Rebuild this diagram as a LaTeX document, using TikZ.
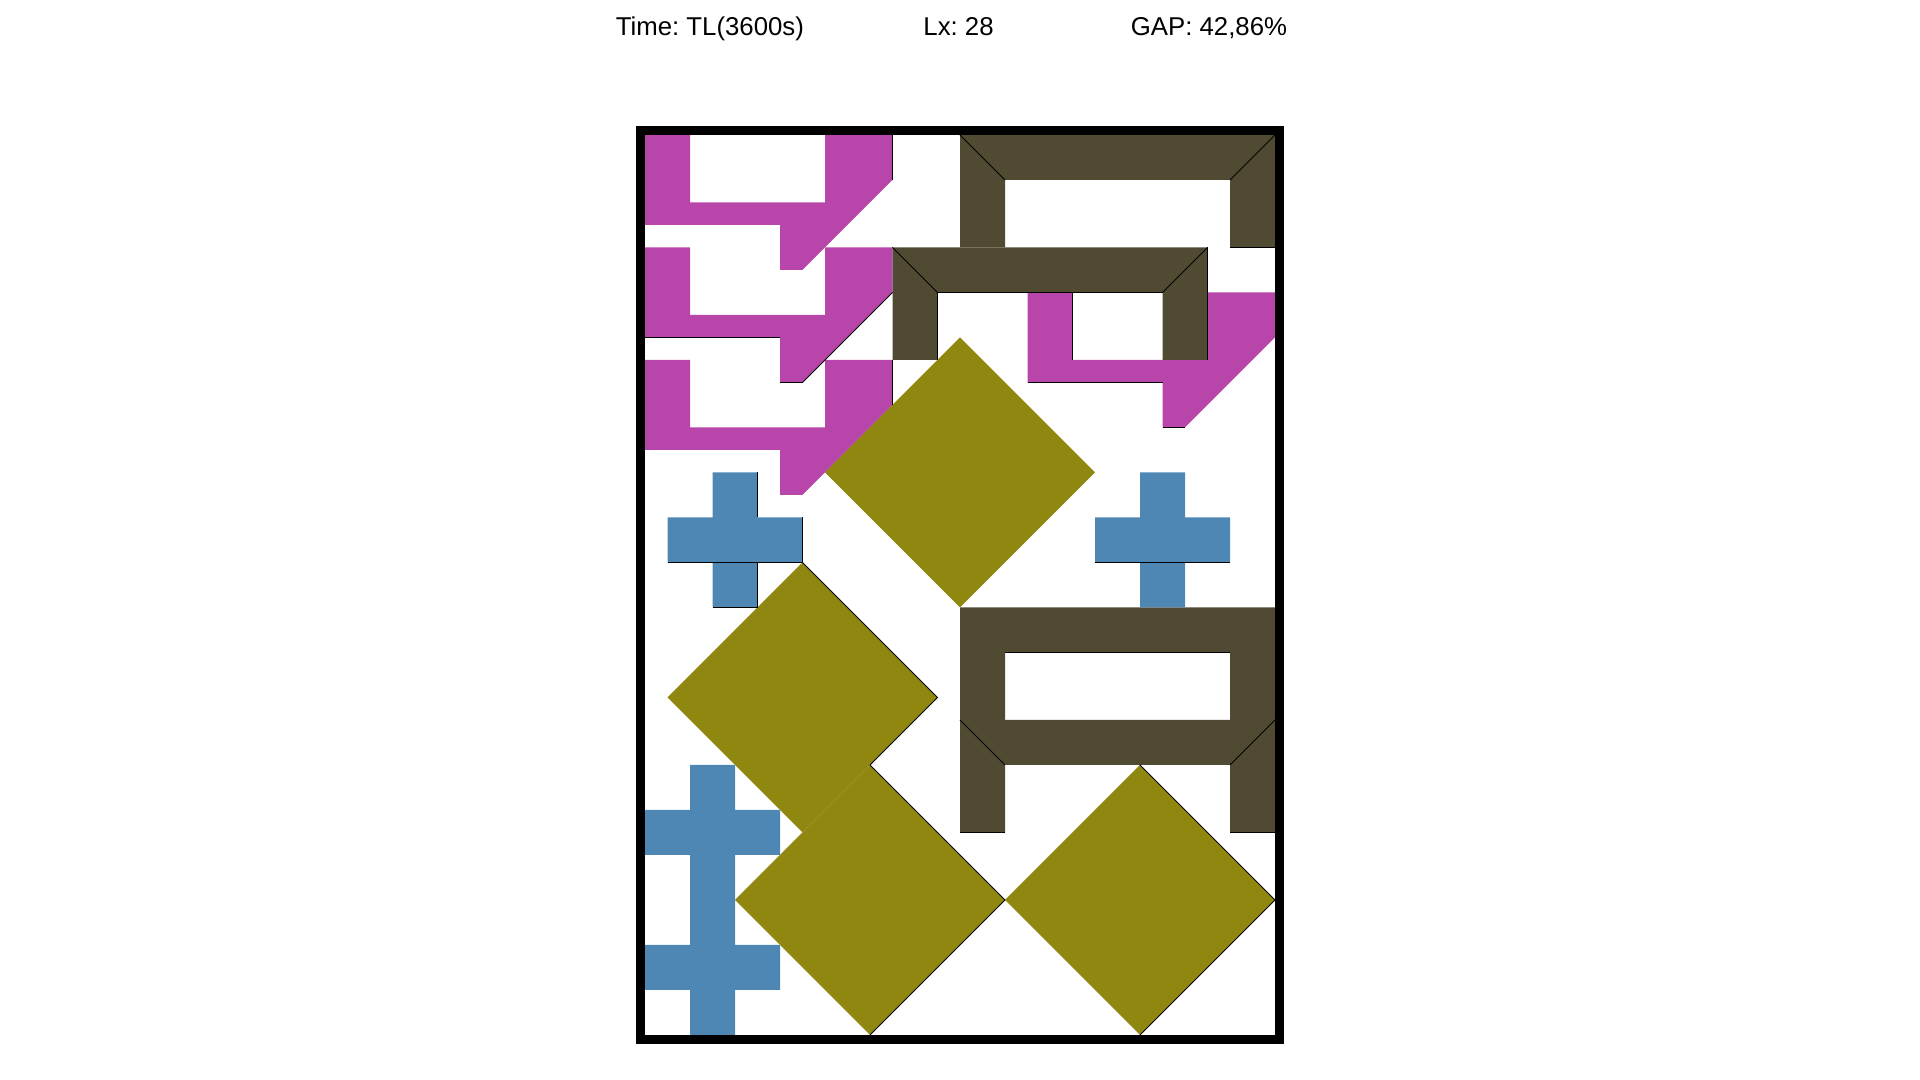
\documentclass[tikz,border=0pt]{standalone}
\usepackage{fontspec}
\setmainfont{Liberation Sans}
\usepackage{tikz}

\definecolor{pcpurple}{HTML}{B845A9}
\definecolor{pcdark}{HTML}{514A33}
\definecolor{pcolive}{HTML}{8F8710}
\definecolor{pcblue}{HTML}{4F87B4}

% hook piece, top-left corner at #1
\newcommand{\hookpiece}[1]{%
  \fill[pcpurple, shift={#1}] (0,0) -- (2,0) -- (2,-3) -- (8,-3) -- (8,0)
    -- (11,0) -- (11,-2) -- (7,-6) -- (6,-6) -- (6,-4) -- (0,-4) -- cycle;}
% bridge piece, top-left corner at #1
\newcommand{\bridgepiece}[1]{%
  \fill[pcdark, shift={#1}] (0,0) -- (14,0) -- (14,-5) -- (12,-5) -- (12,-2)
    -- (2,-2) -- (2,-5) -- (0,-5) -- cycle;}
% turned square, centre at #1
\newcommand{\diamondpiece}[1]{%
  \fill[pcolive, shift={#1}] (0,6) -- (6,0) -- (0,-6) -- (-6,0) -- cycle;}
% cross, centre at #1
\newcommand{\crosspiece}[1]{%
  \fill[pcblue, shift={#1}] (-1,3) -- (1,3) -- (1,1) -- (3,1) -- (3,-1)
    -- (1,-1) -- (1,-3) -- (-1,-3) -- (-1,-1) -- (-3,-1) -- (-3,1)
    -- (-1,1) -- cycle;}

\begin{document}
\begin{tikzpicture}[
  x=5mm, y=5mm,
  headtxt/.style={font=\fontsize{16.3pt}{19pt}\selectfont\frenchspacing,
                  anchor=base west, inner sep=0pt},
  edgeline/.style={draw=black, line width=0.6pt},
  binline/.style={draw=black, line width=5.7pt}
]
\useasboundingbox (-28.667,-2) rectangle (56.667,46);

% Header
\node[headtxt] (time) at (-1.31,44.41) {Time: TL(3600s)};
\node[headtxt] (lx) at (12.36,44.41) {Lx: 28};
\node[headtxt] (gap) at (21.58,44.41) {GAP: 42,86\%};

% Hook pieces
\hookpiece{(0,40)}
\hookpiece{(0,35)}
\hookpiece{(0,30)}
\hookpiece{(17,33)}

% Bridge pieces
\bridgepiece{(14,40)}
\bridgepiece{(11,35)}
\bridgepiece{(14,19)}
\bridgepiece{(14,14)}

% Turned squares
\diamondpiece{(14,25)}
\diamondpiece{(7,15)}
\diamondpiece{(10,6)}
\diamondpiece{(22,6)}

% Crosses
\crosspiece{(4,22)}
\crosspiece{(23,22)}
\crosspiece{(3,9)}
\crosspiece{(3,3)}

% Edge lines (hooks)
\draw[edgeline] (11,40) -- (11,38);
\draw[edgeline] (11,30) -- (11,28);
\draw[edgeline] (11,33) -- (7,29) -- (6,29);
\draw[edgeline] (6,31) -- (0,31);
\draw[edgeline] (24,27) -- (23,27);
\draw[edgeline] (23,29) -- (17,29);
\draw[edgeline] (19,33) -- (19,30);

% Edge lines (bridges)
\draw[edgeline] (14,40) -- (16,38);
\draw[edgeline] (28,40) -- (26,38);
\draw[edgeline] (26,35) -- (28,35);
\draw[edgeline] (11,35) -- (13,33);
\draw[edgeline] (25,35) -- (23,33);
\draw[edgeline] (23,33) -- (13,33) -- (13,30);
\draw[edgeline] (25,35) -- (25,30);
\draw[edgeline] (16,17) -- (26,17);
\draw[edgeline] (14,14) -- (16,12);
\draw[edgeline] (28,14) -- (26,12);
\draw[edgeline] (14,9) -- (16,9);
\draw[edgeline] (26,9) -- (28,9);

% Edge lines (crosses)
\draw[edgeline] (5,25) -- (5,23);
\draw[edgeline] (7,23) -- (7,21) -- (1,21);
\draw[edgeline] (5,21) -- (5,19) -- (3,19);
\draw[edgeline] (20,21) -- (26,21);

% Edge lines (turned squares)
\draw[edgeline] (7,21) -- (13,15) -- (10,12);
\draw[edgeline] (10,12) -- (16,6) -- (10,0);
\draw[edgeline] (22,12) -- (28,6) -- (22,0);

% Container
\draw[binline] (-0.2,-0.2) rectangle (28.2,40.2);
\end{tikzpicture}
\end{document}
